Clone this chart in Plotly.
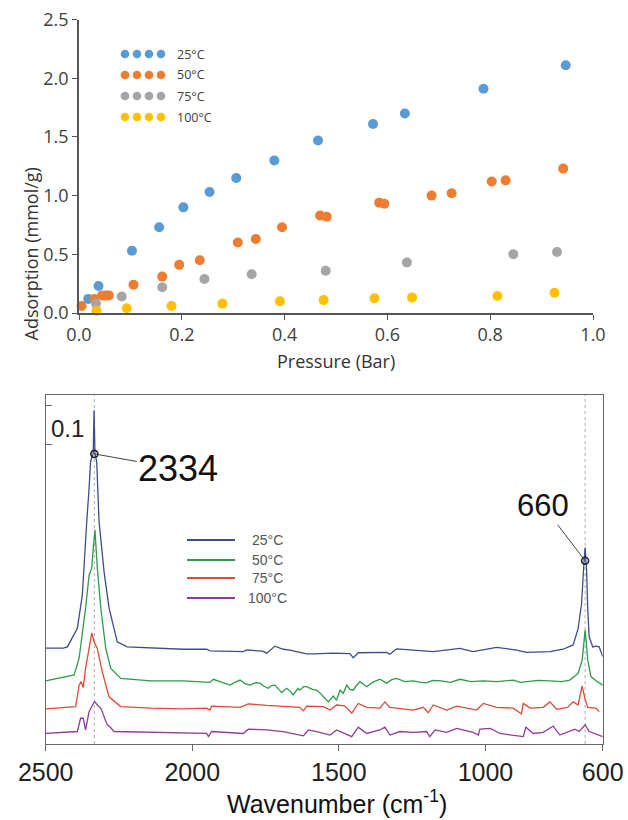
import plotly.graph_objects as go

# ---------------- data: adsorption isotherms ----------------
p25 = [0.018, 0.038, 0.103, 0.156, 0.203, 0.254, 0.306, 0.380, 0.465, 0.572, 0.634, 0.787, 0.947]
a25 = [0.12, 0.23, 0.53, 0.73, 0.90, 1.03, 1.15, 1.30, 1.47, 1.61, 1.70, 1.91, 2.11]
p50 = [0.005, 0.030, 0.045, 0.052, 0.058, 0.106, 0.162, 0.195, 0.235, 0.309, 0.344, 0.395,
       0.469, 0.482, 0.584, 0.594, 0.686, 0.725, 0.803, 0.830, 0.942]
a50 = [0.06, 0.12, 0.15, 0.15, 0.15, 0.24, 0.31, 0.41, 0.45, 0.60, 0.63, 0.73,
       0.83, 0.82, 0.94, 0.93, 1.00, 1.02, 1.12, 1.13, 1.23]
p75 = [0.033, 0.083, 0.162, 0.244, 0.336, 0.480, 0.638, 0.845, 0.930]
a75 = [0.08, 0.14, 0.22, 0.29, 0.33, 0.36, 0.43, 0.50, 0.52]
p100 = [0.034, 0.093, 0.180, 0.279, 0.391, 0.476, 0.575, 0.648, 0.814, 0.925]
a100 = [0.02, 0.04, 0.06, 0.08, 0.10, 0.11, 0.125, 0.133, 0.145, 0.173]
iso_labels = ["25°C", "50°C", "75°C", "100°C"]
p_ticks = [0.0, 0.2, 0.4, 0.6, 0.8, 1.0]
a_ticks = [0.0, 0.5, 1.0, 1.5, 2.0, 2.5]

# ---------------- data: IR spectra (offset, absorbance units) ----------------
wn25 = [2500, 2440, 2426, 2392, 2375, 2369, 2360, 2352, 2347, 2338, 2335, 2332, 2326, 2318, 2301,
        2284, 2273, 2256, 2222, 2142, 2031, 1951, 1940, 1826, 1814, 1760, 1746, 1718, 1690, 1667,
        1610, 1587, 1519, 1462, 1451, 1434, 1337, 1326, 1303, 1178, 1087, 1042, 962, 894, 860,
        780, 735, 701, 684, 672, 667, 664, 660, 657, 655, 651, 646, 634, 623, 612, 600]
ab25 = [0.246, 0.246, 0.249, 0.297, 0.382, 0.467, 0.570, 0.656, 0.724, 0.745, 0.856, 0.745, 0.724, 0.570, 0.442,
        0.349, 0.314, 0.262, 0.249, 0.246, 0.243, 0.243, 0.239, 0.237, 0.241, 0.238, 0.233, 0.251, 0.243, 0.241,
        0.231, 0.231, 0.233, 0.232, 0.221, 0.234, 0.235, 0.230, 0.244, 0.237, 0.245, 0.237, 0.248, 0.241, 0.235,
        0.237, 0.243, 0.254, 0.295, 0.361, 0.446, 0.465, 0.504, 0.465, 0.446, 0.344, 0.275, 0.249, 0.251, 0.249, 0.224]

wn50 = [2500, 2403, 2386, 2375, 2364, 2352, 2343, 2338, 2332, 2324,
        2312, 2295, 2278, 2244, 2142, 2031, 1951, 1940, 1928, 1900,
        1871, 1855, 1837, 1820, 1803, 1785, 1769, 1755, 1741, 1730,
        1718, 1705, 1695, 1678, 1665, 1656, 1639, 1633, 1620, 1610,
        1590, 1576, 1560, 1553, 1536, 1525, 1519, 1508, 1496, 1485,
        1473, 1462, 1451, 1440, 1428, 1405, 1385, 1360, 1337, 1320,
        1303, 1275, 1246, 1220, 1201, 1180, 1150, 1120, 1087, 1050,
        1007, 960, 905, 880, 860, 820, 780, 740, 712, 684,
        670, 663, 660, 655, 651, 640, 623, 600]
ab50 = [0.162, 0.177, 0.220, 0.279, 0.348, 0.433, 0.451, 0.500, 0.549, 0.451,
        0.348, 0.245, 0.194, 0.168, 0.162, 0.162, 0.160, 0.158, 0.166, 0.158,
        0.151, 0.158, 0.164, 0.155, 0.151, 0.157, 0.156, 0.148, 0.143, 0.150,
        0.151, 0.140, 0.132, 0.143, 0.135, 0.126, 0.143, 0.138, 0.147, 0.147,
        0.140, 0.138, 0.128, 0.121, 0.108, 0.118, 0.123, 0.112, 0.138, 0.130,
        0.151, 0.140, 0.138, 0.150, 0.160, 0.147, 0.158, 0.166, 0.156, 0.165,
        0.168, 0.160, 0.162, 0.158, 0.157, 0.163, 0.162, 0.158, 0.166, 0.160,
        0.162, 0.160, 0.164, 0.158, 0.160, 0.163, 0.162, 0.160, 0.164, 0.181,
        0.215, 0.260, 0.292, 0.250, 0.215, 0.173, 0.162, 0.151]

wn75 = [2500, 2398, 2386, 2379, 2372, 2364, 2352, 2343, 2335, 2324,
        2307, 2284, 2244, 2142, 2031, 1951, 1940, 1934, 1837, 1809,
        1746, 1678, 1633, 1621, 1610, 1553, 1530, 1508, 1480, 1456,
        1434, 1405, 1360, 1343, 1326, 1246, 1212, 1195, 1178, 1132,
        1098, 1030, 1007, 962, 905, 877, 871, 848, 803, 780,
        757, 720, 701, 684, 670, 661, 651, 623, 612]
ab75 = [0.090, 0.096, 0.151, 0.160, 0.145, 0.194, 0.245, 0.285, 0.262, 0.245,
        0.185, 0.121, 0.096, 0.092, 0.090, 0.092, 0.087, 0.097, 0.094, 0.103,
        0.099, 0.097, 0.094, 0.085, 0.097, 0.096, 0.087, 0.100, 0.098, 0.079,
        0.104, 0.094, 0.092, 0.108, 0.094, 0.087, 0.094, 0.080, 0.100, 0.087,
        0.097, 0.087, 0.104, 0.094, 0.092, 0.077, 0.104, 0.092, 0.094, 0.108,
        0.089, 0.094, 0.108, 0.100, 0.149, 0.117, 0.094, 0.092, 0.083]

wn100 = [2500, 2392, 2381, 2372, 2364, 2352, 2335, 2332, 2324, 2312,
         2290, 2281, 2267, 2142, 1951, 1945, 1934, 1826, 1809, 1746,
         1690, 1621, 1604, 1576, 1530, 1508, 1456, 1434, 1405, 1360,
         1343, 1326, 1292, 1246, 1201, 1190, 1172, 1132, 1098, 1042,
         1024, 1019, 984, 950, 871, 862, 837, 803, 769, 746,
         720, 695, 680, 660, 646, 617, 600]
ab100 = [0.027, 0.032, 0.066, 0.066, 0.036, 0.083, 0.107, 0.108, 0.100, 0.092,
         0.049, 0.044, 0.032, 0.030, 0.027, 0.019, 0.032, 0.027, 0.038, 0.036,
         0.032, 0.021, 0.036, 0.032, 0.023, 0.036, 0.019, 0.043, 0.027, 0.036,
         0.043, 0.023, 0.032, 0.030, 0.032, 0.019, 0.036, 0.030, 0.040, 0.030,
         0.023, 0.038, 0.040, 0.027, 0.019, 0.043, 0.027, 0.030, 0.046, 0.023,
         0.030, 0.038, 0.032, 0.049, 0.032, 0.023, 0.019]

spec_labels = ["25°C", "50°C", "75°C", "100°C"]
wn_ticks = [2500, 2000, 1500, 1000, 600]
peak_wn = [2334, 660]
peak_ab = [0.744, 0.470]
peak_text = ["2334", "660"]
scale_bar = [0.767, 0.867]   # 0.1 absorbance scale bar
scale_text = "0.1"

# ---------------- styling ----------------
W, H = 628, 820
iso_colors = ["#5B9BD5", "#ED7D31", "#A5A5A5", "#FFC000"]
spec_colors = ["#3F4B8C", "#2E9A4E", "#DD4A3A", "#8E3C98"]
TOPFONT = "Open Sans"
BOTFONT = "Liberation Sans, Arial"


def fx(px):
    return px / W


def fy(py):
    return 1 - py / H


fig = go.Figure()

for xs, ys, c, n in zip([p25, p50, p75, p100], [a25, a50, a75, a100], iso_colors, iso_labels):
    fig.add_trace(go.Scatter(x=xs, y=ys, mode="markers", name=n, xaxis="x", yaxis="y",
                             marker=dict(size=10, color=c), cliponaxis=False, showlegend=False))

for xs, ys, c, n in zip([wn25, wn50, wn75, wn100], [ab25, ab50, ab75, ab100], spec_colors, spec_labels):
    fig.add_trace(go.Scatter(x=xs, y=ys, mode="lines", name=n, xaxis="x2", yaxis="y2",
                             line=dict(color=c, width=1.3), showlegend=False))

fig.add_trace(go.Scatter(x=peak_wn, y=peak_ab, mode="markers", xaxis="x2", yaxis="y2",
                         marker=dict(symbol="circle-open", size=7, color="#222", line=dict(width=1.6)),
                         showlegend=False, cliponaxis=False))

shapes = []
annotations = []

# dotted guide lines at the peaks
for w in peak_wn:
    shapes.append(dict(type="line", xref="x2", yref="y2 domain", x0=w, x1=w, y0=0, y1=1,
                       line=dict(color="#999", width=0.8, dash="dot"), layer="below"))

# top legend: four dots per entry
for i, (c, n) in enumerate(zip(iso_colors, iso_labels)):
    cy = 54 + i * 21
    for k in range(4):
        cx = 125 + k * 12
        shapes.append(dict(type="circle", xref="paper", yref="paper",
                           x0=fx(cx - 4.3), x1=fx(cx + 4.3), y0=fy(cy + 4.3), y1=fy(cy - 4.3),
                           fillcolor=c, line=dict(width=0)))
    annotations.append(dict(x=fx(175), y=fy(cy), xref="paper", yref="paper", text=n,
                            showarrow=False, xanchor="left", yanchor="middle",
                            font=dict(family=TOPFONT, size=12.5, color="#404040")))

# bottom legend: line samples
for i, (c, n, cy) in enumerate(zip(spec_colors, spec_labels, [540, 560, 578, 598])):
    shapes.append(dict(type="line", xref="paper", yref="paper", x0=fx(187), x1=fx(235),
                       y0=fy(cy), y1=fy(cy), line=dict(color=c, width=1.8)))
    annotations.append(dict(x=fx(267), y=fy(cy), xref="paper", yref="paper", text=n,
                            showarrow=False, xanchor="center", yanchor="middle",
                            font=dict(family=BOTFONT, size=14, color="#555")))

# peak labels
annotations.append(dict(x=peak_wn[0], y=peak_ab[0], xref="x2", yref="y2", text=peak_text[0],
                        showarrow=True, arrowhead=0, arrowwidth=1, arrowcolor="#444",
                        ax=84, ay=15, font=dict(family=BOTFONT, size=36, color="#111")))
annotations.append(dict(x=peak_wn[1], y=peak_ab[1], xref="x2", yref="y2", text=peak_text[1],
                        showarrow=True, arrowhead=0, arrowwidth=1, arrowcolor="#444",
                        ax=-42, ay=-55, font=dict(family=BOTFONT, size=31, color="#111")))
annotations.append(dict(x=fx(86), y=fy(428), xref="paper", yref="paper", text=scale_text,
                        xanchor="right", showarrow=False,
                        font=dict(family=BOTFONT, size=24, color="#222")))

# axis titles
annotations.append(dict(x=fx(17), y=fy(166), xref="paper", yref="paper", text="Adsorption (mmol/g)",
                        textangle=-90, showarrow=False, font=dict(family=TOPFONT, size=18, color="#333")))
annotations.append(dict(x=fx(336), y=fy(361), xref="paper", yref="paper", text="Pressure (Bar)",
                        showarrow=False, font=dict(family=TOPFONT, size=18, color="#333")))
annotations.append(dict(x=fx(337), y=fy(820), xref="paper", yref="paper", yanchor="bottom",
                        text="Wavenumber (cm<sup>-1</sup>)",
                        showarrow=False, font=dict(family=BOTFONT, size=25, color="#111")))

fig.update_layout(
    width=W, height=H, margin=dict(l=0, r=0, t=0, b=0, autoexpand=False),
    paper_bgcolor="white", plot_bgcolor="white", showlegend=False,
    shapes=shapes, annotations=annotations,
    xaxis=dict(domain=[fx(79), fx(593)], range=[0, 1], tickvals=p_ticks, tickformat=".1f",
               showline=True, linecolor="#555", linewidth=1.5, ticks="outside", ticklen=5,
               tickcolor="#555", showgrid=False, zeroline=False, anchor="y", automargin=False,
               tickfont=dict(family=TOPFONT, size=18, color="#404040")),
    yaxis=dict(domain=[fy(313), fy(19.5)], range=[0, 2.5], tickvals=a_ticks, tickformat=".1f",
               showline=True, linecolor="#555", linewidth=1.5, ticks="outside", ticklen=5,
               tickcolor="#555", showgrid=False, zeroline=False, anchor="x", automargin=False,
               tickfont=dict(family=TOPFONT, size=18, color="#404040")),
    xaxis2=dict(domain=[fx(45.7), fx(602.7)], range=[2500, 600], tickvals=wn_ticks,
                showline=True, mirror=True, linecolor="#666", linewidth=1, ticks="outside",
                ticklen=6, tickcolor="#666", showgrid=False, zeroline=False, anchor="y2",
                automargin=False, tickfont=dict(family=BOTFONT, size=25, color="#222")),
    yaxis2=dict(domain=[fy(744), fy(395)], range=[0, 0.895], tickvals=scale_bar,
                showticklabels=False, showline=True, mirror=True, linecolor="#666", linewidth=1,
                ticks="inside", ticklen=6, tickcolor="#666", showgrid=False, zeroline=False,
                anchor="x2", automargin=False),
)

fig.write_html("out.html", config={"displayModeBar": False},
               post_script="document.body.style.margin='0';document.body.style.overflow='hidden';")
